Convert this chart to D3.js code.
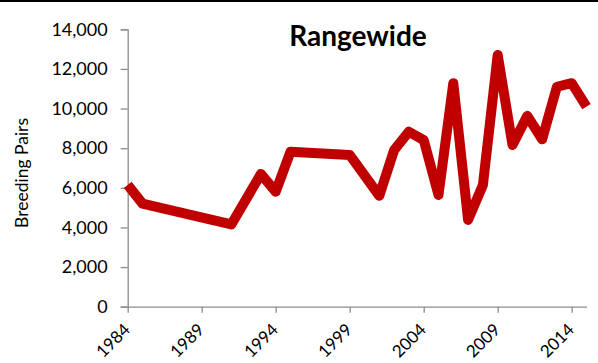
<!DOCTYPE html>
<html><head><meta charset="utf-8">
<script src="https://cdn.jsdelivr.net/npm/d3@7"></script>
<style>body{margin:0;background:#fff}svg{display:block}</style>
</head><body>
<script>
const title = "Rangewide";
const yLabel = "Breeding Pairs";
const years = [1984,1985,1991,1993,1994,1995,1999,2001,2002,2003,2004,2005,2006,2007,2008,2009,2010,2011,2012,2013,2014,2015];
const pairs = [6150,5200,4150,6700,5800,7820,7660,5600,7900,8830,8410,5640,11280,4380,6140,12700,8160,9630,8450,11100,11280,10100];
const yTicks = [0,2000,4000,6000,8000,10000,12000,14000];
const xTicks = [1984,1989,1994,1999,2004,2009,2014];

const W = 598, H = 363;
const svg = d3.select("body").append("svg").attr("width", W).attr("height", H);
svg.append("rect").attr("x",0).attr("y",0).attr("width",W).attr("height",2).attr("fill","#000");

const x = d3.scaleLinear().domain([1984, 2015]).range([127.7, 586.5]);
const y = d3.scaleLinear().domain([0, 14000]).range([306.7, 29.3]);
const font = "Lato, 'Open Sans', sans-serif";
const axisColor = "#8c8c8c";

// y axis
const ya = svg.append("g").attr("transform", "translate(127.7,0)")
  .call(d3.axisLeft(y).tickValues(yTicks).tickFormat(d3.format(",")).tickSize(7).tickPadding(13));
ya.select(".domain").attr("stroke", axisColor).attr("stroke-width",1.3);
ya.selectAll(".tick line").attr("stroke", axisColor).attr("stroke-width",1.3);
ya.selectAll("text").attr("font-family", font).attr("font-size", 18).attr("fill","#000");

// x axis
const xa = svg.append("g").attr("transform", "translate(0,306.7)")
  .call(d3.axisBottom(x).tickValues(xTicks).tickFormat(d3.format("d")).tickSize(6).tickSizeOuter(0));
xa.select(".domain").attr("stroke", axisColor).attr("stroke-width",1.3);
xa.selectAll(".tick line").attr("stroke", axisColor).attr("stroke-width",1.3);
xa.selectAll("text").attr("font-family", font).attr("font-size", 17).attr("fill","#000")
  .attr("text-anchor","end").attr("dy", null).attr("y", 0)
  .attr("transform", "translate(3,24) rotate(-45)");

// y label
svg.append("text").attr("transform", "translate(28,173) rotate(-90)")
  .attr("text-anchor","middle").attr("font-family", font).attr("font-size", 17.5)
  .attr("fill","#000").text(yLabel);

// title
svg.append("text").attr("x", 358).attr("y", 46).attr("text-anchor","middle")
  .attr("font-family", font).attr("font-weight","bold").attr("font-size", 28)
  .attr("fill","#000").text(title);

// line
const data = years.map((yr,i)=>({yr, v: pairs[i]}));
svg.append("path").datum(data)
  .attr("d", d3.line().x(d=>x(d.yr)).y(d=>y(d.v)))
  .attr("fill","none").attr("stroke","#c00000").attr("stroke-width",10)
  .attr("stroke-linejoin","round").attr("stroke-linecap","butt");
</script>
</body></html>
